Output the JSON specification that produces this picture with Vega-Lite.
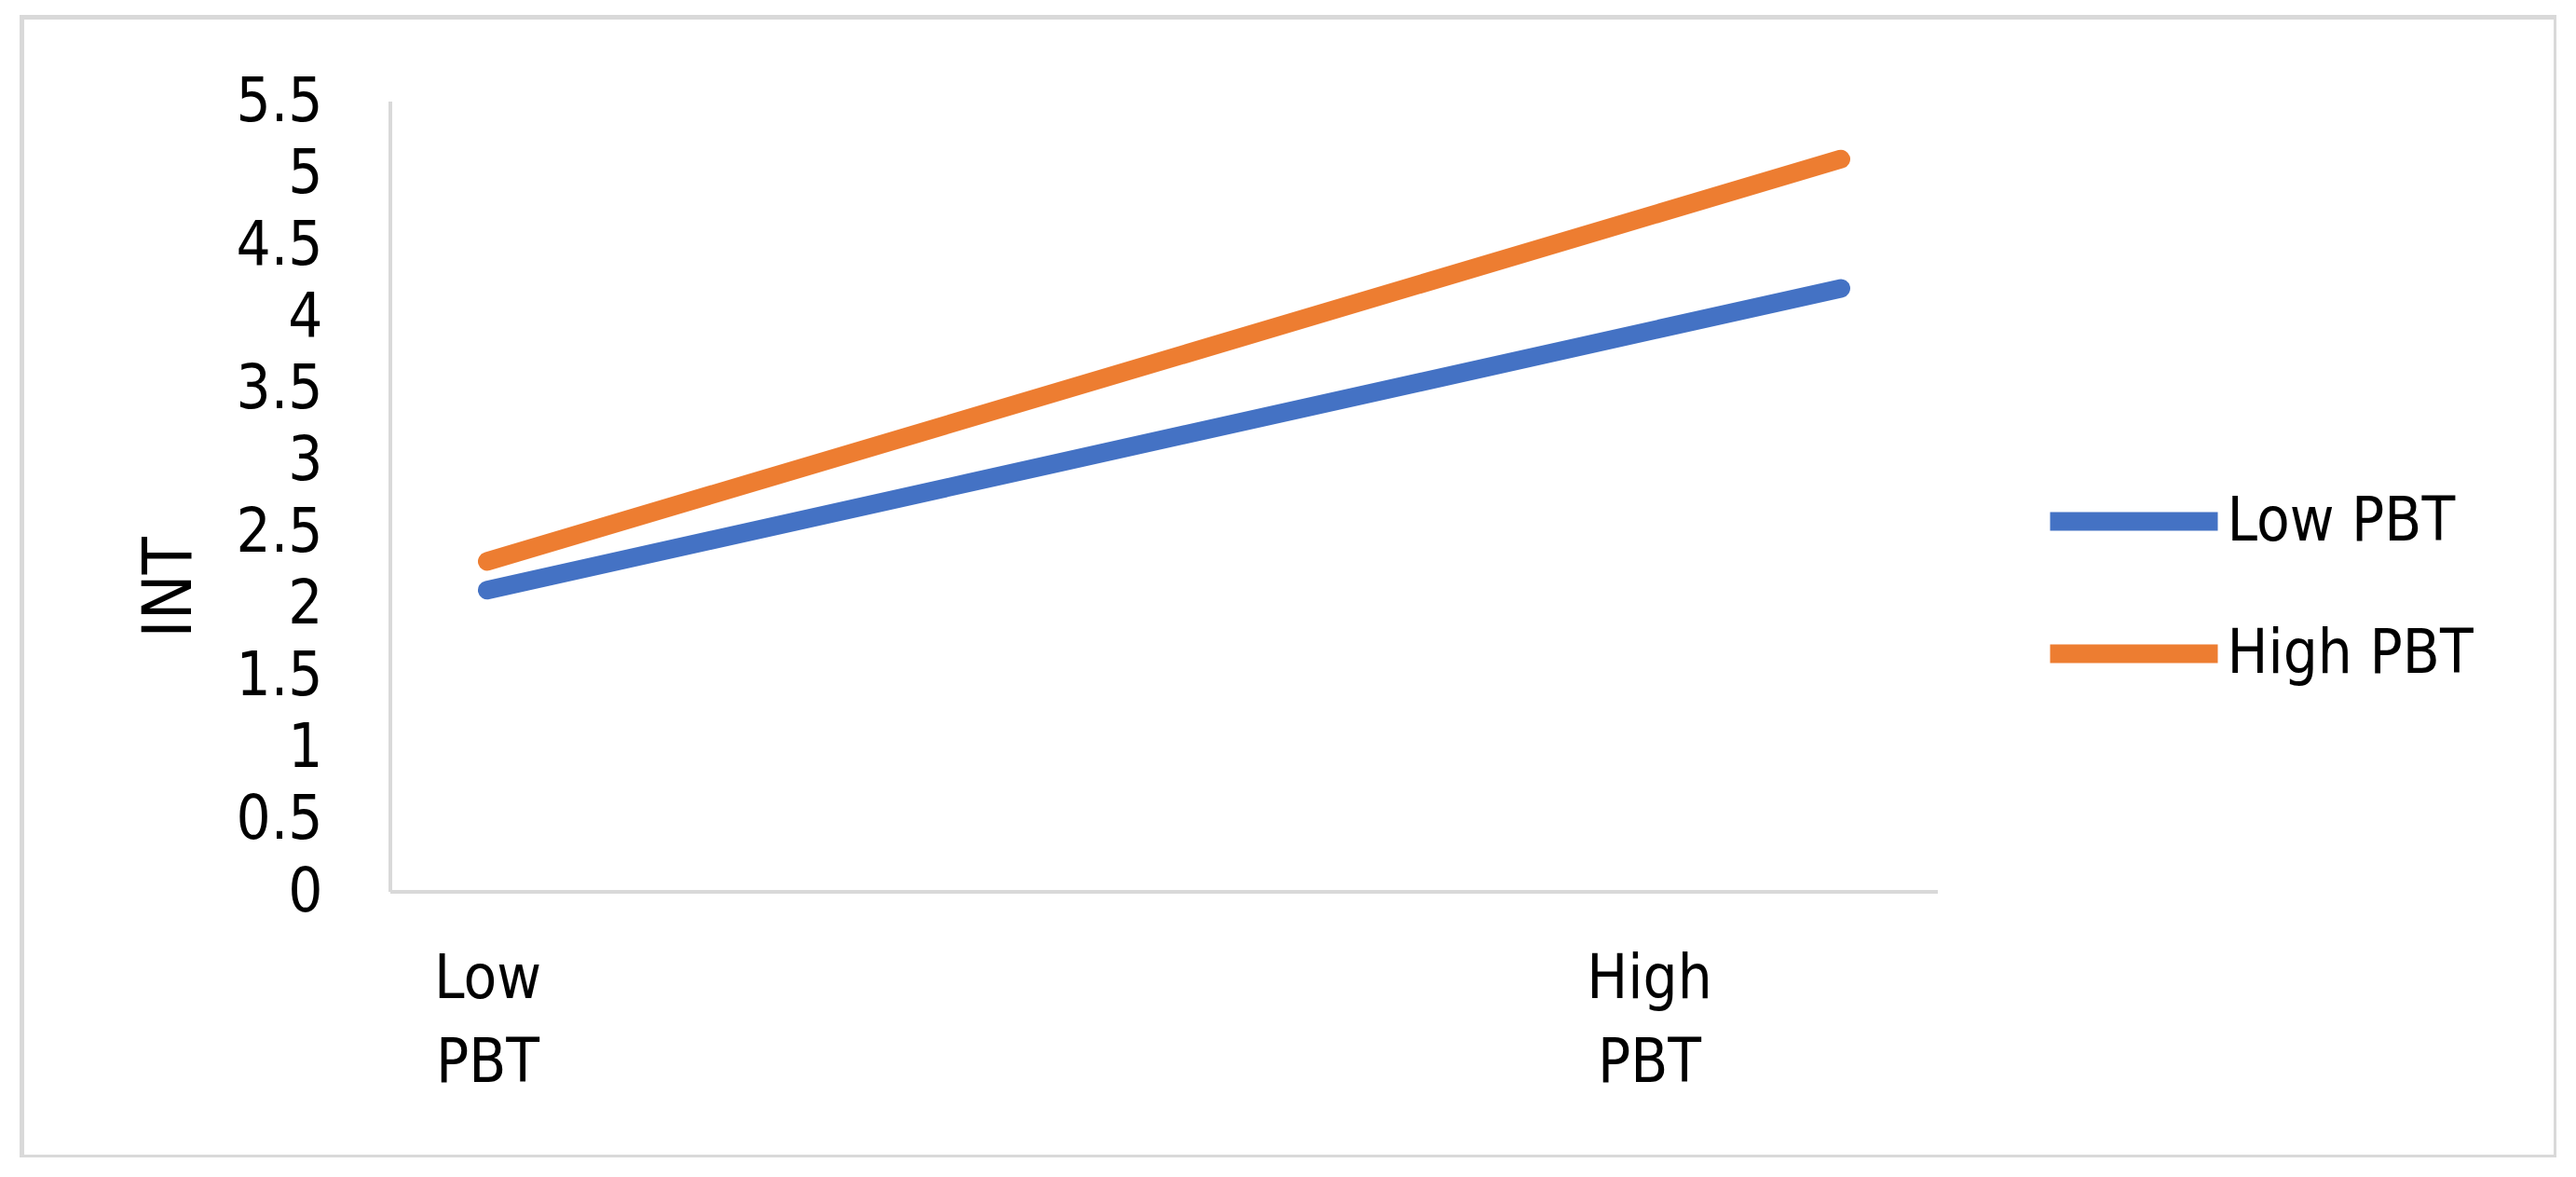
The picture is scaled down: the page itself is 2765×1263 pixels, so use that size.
{
  "$schema": "https://vega.github.io/schema/vega-lite/v6.json",
  "width": 2720,
  "height": 1223,
  "autosize": {"type": "none"},
  "padding": {"left": 23.5, "top": 18.5, "right": 0, "bottom": 0},
  "background": "white",
  "config": {
    "view": {"stroke": "#d9d9d9", "strokeWidth": 5},
    "font": "DejaVu Sans Condensed, DejaVu Sans, sans-serif",
    "axisX": {
      "offset": -284.5, "domain": false, "ticks": false, "grid": false,
      "labelFontSize": 65, "labelLineHeight": 90, "labelPadding": 62,
      "labelColor": "black", "labelFlush": false, "labelOverlap": false
    },
    "axisY": {
      "offset": -395.5, "domain": false, "ticks": false, "grid": false,
      "labelFontSize": 65, "labelPadding": 73, "labelColor": "black",
      "labelFlush": false, "labelOverlap": false,
      "titleFontSize": 73, "titleFontWeight": "normal", "titleColor": "black", "titlePadding": 34
    }
  },
  "data": {
    "values": [
      {"Moderator": "Low PBT", "PBT": -1, "INT": 2.1},
      {"Moderator": "Low PBT", "PBT": 1, "INT": 4.2},
      {"Moderator": "High PBT", "PBT": -1, "INT": 2.3},
      {"Moderator": "High PBT", "PBT": 1, "INT": 5.1}
    ]
  },
  "layer": [
    {
      "mark": {"type": "rule", "color": "#d9d9d9", "strokeWidth": 4},
      "encoding": {
        "x": {"datum": -1.1431, "type": "quantitative", "scale": {"domain": [-1.6875, 2.0564], "nice": false, "zero": false},
          "axis": {"values": [-1, 0.7165], "labelExpr": "datum.value < 0 ? ['Low', 'PBT'] : ['High', 'PBT']", "title": null}},
        "y": {"datum": 0, "type": "quantitative", "scale": {"domain": [-1.845, 6.087], "nice": false, "zero": false},
          "axis": {"values": [0, 0.5, 1, 1.5, 2, 2.5, 3, 3.5, 4, 4.5, 5, 5.5], "labelExpr": "'' + datum.value", "title": "INT"}},
        "y2": {"datum": 5.5}
      }
    },
    {
      "mark": {"type": "rule", "color": "#d9d9d9", "strokeWidth": 4},
      "encoding": {
        "x": {"datum": -1.1431, "type": "quantitative", "scale": {"domain": [-1.6875, 2.0564], "nice": false, "zero": false},
          "axis": {"values": [-1, 0.7165], "labelExpr": "datum.value < 0 ? ['Low', 'PBT'] : ['High', 'PBT']", "title": null}},
        "x2": {"datum": 1.1431},
        "y": {"datum": 0, "type": "quantitative", "scale": {"domain": [-1.845, 6.087], "nice": false, "zero": false},
          "axis": {"values": [0, 0.5, 1, 1.5, 2, 2.5, 3, 3.5, 4, 4.5, 5, 5.5], "labelExpr": "'' + datum.value", "title": "INT"}}
      }
    },
    {
      "mark": {"type": "line", "strokeWidth": 20, "strokeCap": "round"},
      "encoding": {
        "x": {
          "field": "PBT", "type": "quantitative",
          "scale": {"domain": [-1.6875, 2.0564], "nice": false, "zero": false},
          "axis": {"values": [-1, 0.7165], "labelExpr": "datum.value < 0 ? ['Low', 'PBT'] : ['High', 'PBT']", "title": null}
        },
        "y": {
          "field": "INT", "type": "quantitative",
          "scale": {"domain": [-1.845, 6.087], "nice": false, "zero": false},
          "axis": {"values": [0, 0.5, 1, 1.5, 2, 2.5, 3, 3.5, 4, 4.5, 5, 5.5], "labelExpr": "'' + datum.value", "title": "INT"}
        },
        "color": {
          "field": "Moderator", "type": "nominal",
          "scale": {"domain": ["Low PBT", "High PBT"], "range": ["#4472c4", "#ed7d31"]},
          "legend": {
            "orient": "none", "legendX": 2167, "legendY": 441,
            "title": null, "symbolType": "stroke", "symbolSize": 32400, "symbolStrokeWidth": 20,
            "labelFontSize": 65, "labelColor": "black", "labelOffset": 0, "rowPadding": 2, "labelLimit": 600
          }
        }
      }
    }
  ]
}
